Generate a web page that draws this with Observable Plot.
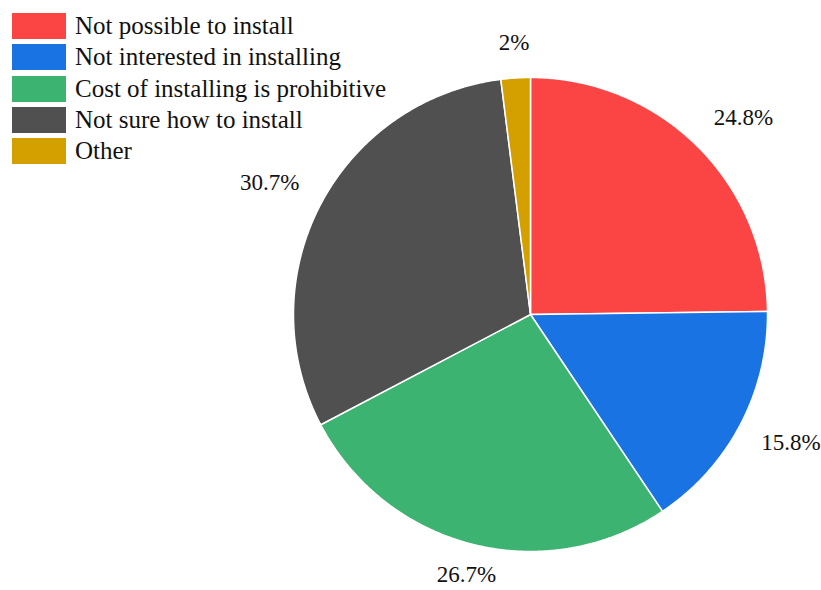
<!DOCTYPE html>
<html>
<head>
<meta charset="utf-8">
<script src="https://cdn.jsdelivr.net/npm/d3@7"></script>
<script src="https://cdn.jsdelivr.net/npm/@observablehq/plot@0.6"></script>
<style>
  html, body { margin: 0; padding: 0; background: #fff; }
  #wrap { position: relative; width: 821px; height: 590px; }
  #legend { position: absolute; left: 12px; top: 13px; font-family: "Liberation Serif", "Times New Roman", serif; font-size: 25px; color: #111; }
  .row { display: flex; height: 31.25px; }
  .sw { width: 54px; height: 26px; margin-right: 9px; flex: none; }
  .lab { line-height: 26px; white-space: nowrap; }
</style>
</head>
<body>
<div id="wrap"><div id="legend"></div></div>
<script>
const categories = ["Not possible to install", "Not interested in installing", "Cost of installing is prohibitive", "Not sure how to install", "Other"];
const values = [24.8, 15.8, 26.7, 30.7, 2];
const labels = ["24.8%", "15.8%", "26.7%", "30.7%", "2%"];
const colors = ["#fb4444", "#1a73e3", "#3cb371", "#505050", "#d4a000"];

// layout (pixels)
const W = 821, H = 590, CX = 530, CY = 314, R = 237, LABEL_R = 1.1;
const LINE_DY = {top: -2, middle: 0, bottom: -4};

const total = d3.sum(values);
const slices = [];
const labelRows = [];
let acc = 0;
values.forEach((v, i) => {
  const a0 = acc / total * 2 * Math.PI;
  acc += v;
  const a1 = acc / total * 2 * Math.PI;
  const n = Math.max(2, Math.ceil((a1 - a0) / (Math.PI / 360)));
  slices.push({category: categories[i], x: 0, y: 0});
  for (let j = 0; j <= n; j++) {
    const a = a0 + (a1 - a0) * j / n;
    slices.push({category: categories[i], x: Math.sin(a), y: Math.cos(a)});
  }
  slices.push({category: categories[i], x: 0, y: 0});
  const am = (a0 + a1) / 2;
  const s = Math.sin(am), c = Math.cos(am);
  labelRows.push({
    label: labels[i],
    x: s * LABEL_R, y: c * LABEL_R,
    ta: s > 0.3 ? "start" : s < -0.3 ? "end" : "middle",
    la: c > 0.3 ? "bottom" : c < -0.3 ? "top" : "middle"
  });
});

const textMarks = [];
for (const ta of ["start", "middle", "end"]) {
  for (const la of ["top", "middle", "bottom"]) {
    const rows = labelRows.filter(d => d.ta === ta && d.la === la);
    if (rows.length) textMarks.push(Plot.text(rows, {
      x: "x", y: "y", text: "label", textAnchor: ta, lineAnchor: la, dy: LINE_DY[la],
      fontSize: 23, fill: "#111", fontFamily: "'Liberation Serif', 'Times New Roman', serif"
    }));
  }
}

const chart = Plot.plot({
  width: W, height: H,
  margin: 0,
  style: {fontFamily: "'Liberation Serif', 'Times New Roman', serif", background: "transparent"},
  x: {domain: [-CX / R, (W - CX) / R], range: [0, W], axis: null},
  y: {domain: [CY / R, -(H - CY) / R], range: [0, H], axis: null},
  color: {domain: categories, range: colors},
  marks: [
    Plot.line(slices, {x: "x", y: "y", z: "category", fill: "category", stroke: "#fff", strokeWidth: 1.5, strokeLinejoin: "round", curve: "linear"}),
    ...textMarks
  ]
});
chart.style.position = "absolute";
chart.style.left = "0";
chart.style.top = "0";
const wrap = document.getElementById("wrap");
wrap.insertBefore(chart, wrap.firstChild);

const legend = document.getElementById("legend");
categories.forEach((c, i) => {
  const row = document.createElement("div");
  row.className = "row";
  const sw = document.createElement("div");
  sw.className = "sw";
  sw.style.background = colors[i];
  const lab = document.createElement("div");
  lab.className = "lab";
  lab.textContent = c;
  row.appendChild(sw);
  row.appendChild(lab);
  legend.appendChild(row);
});
</script>
</body>
</html>
